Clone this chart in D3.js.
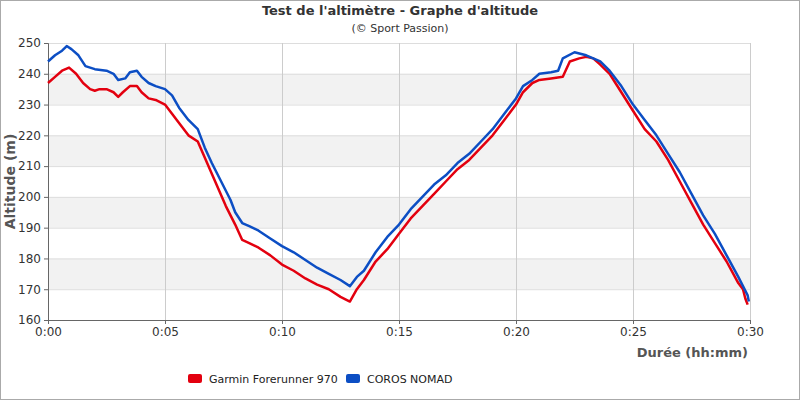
<!DOCTYPE html>
<html><head><meta charset="utf-8">
<script src="https://cdn.jsdelivr.net/npm/d3@7"></script>
<style>body{margin:0;background:#fff;font-family:"DejaVu Sans",sans-serif}</style>
</head><body>
<script>
// minutes -> altitude (m)
var garminT = [0,0.3,0.6,0.9,1.2,1.5,1.8,2.0,2.2,2.5,2.8,3.0,3.2,3.5,3.8,4.0,4.3,4.6,5.0,5.3,5.6,6.0,6.4,6.8,7.2,7.6,8.0,8.3,8.6,9.0,9.5,10,10.5,11,11.5,12,12.5,12.9,13.2,13.5,14,14.5,15,15.5,16,16.5,17,17.5,18,18.5,19,19.5,20,20.3,20.7,21.0,21.5,22.0,22.3,22.7,23,23.3,23.6,24,24.5,25,25.5,26,26.5,27,27.5,28,28.5,29,29.5,29.7,29.8,29.9];
var garminV = [237,239,241,242,240,237,235,234.5,235,235,234,232.5,234,236,236,234,232,231.5,230,227,224,220,218,211,204,197,191,186,185,183.5,181,178,176,173.5,171.5,170,167.5,166,170,173,179,183,188,193,197,201,205,209,212,216,220,225,230,234,237,238,238.5,239,244,245,245.5,245,243,240,234,228,222,218,212,205,198,191,185,179,172,170,167,165];
var corosT = [0,0.3,0.6,0.8,1.0,1.3,1.6,2.0,2.5,2.8,3.0,3.3,3.5,3.8,4.0,4.3,4.6,5.0,5.3,5.6,6.0,6.4,6.7,7.0,7.4,7.8,8.0,8.3,8.6,9.0,9.5,10,10.5,11,11.5,12,12.5,12.9,13.2,13.5,14,14.5,15,15.5,16,16.5,17,17.5,18,18.5,19,19.5,20,20.3,20.7,21,21.5,21.8,22,22.5,23,23.3,23.6,24,24.5,25,25.5,26,26.5,27,27.5,28,28.5,29,29.5,29.7,29.9,29.95];
var corosV = [244,246,247.5,249,248,246,242.5,241.5,241,240,238,238.5,240.5,241,239,237,236,235,233,229,225,222,216,211,205,199,195,191.5,190.5,189,186.5,184,182,179.5,177,175,173,171,174,176,182,187,191,196,200,204,207,211,214,218,222,227,232,236,238,240,240.5,241,245,247,246,245,244,241,236,230,225,220,214,208,201,194,188,181,174,171,168,166];
var xTicks = [0,5,10,15,20,25,30];
var xTickLabels = ["0:00","0:05","0:10","0:15","0:20","0:25","0:30"];
var yTicks = [160,170,180,190,200,210,220,230,240,250];

var W = 800, H = 400, L = 48, R = 750, T = 43, B = 320;
var svg = d3.select("body").append("svg").attr("width", W).attr("height", H);
svg.append("rect").attr("x",0.5).attr("y",0.5).attr("width",W-1).attr("height",H-1)
  .attr("fill","#fff").attr("stroke","#aaa");

var x = d3.scaleLinear().domain([0,30]).range([L,R]);
var y = d3.scaleLinear().domain([160,250]).range([B,T]);

// shaded bands
[170,190,210,230].forEach(function(v){
  svg.append("rect").attr("x",L).attr("width",R-L).attr("y",y(v+10)).attr("height",y(v)-y(v+10)).attr("fill","#f2f2f2");
});
svg.selectAll(".hg").data(yTicks).enter().append("line")
  .attr("x1",L).attr("x2",R).attr("y1",function(d){return y(d)+0.5;}).attr("y2",function(d){return y(d)+0.5;})
  .attr("stroke","#ddd");
svg.selectAll(".vg").data(xTicks).enter().append("line")
  .attr("y1",T).attr("y2",B).attr("x1",function(d){return x(d)+0.5;}).attr("x2",function(d){return x(d)+0.5;})
  .attr("stroke","#ccc");

var xAxis = svg.append("g").attr("transform","translate(0,"+B+")")
  .call(d3.axisBottom(x).tickValues(xTicks).tickFormat(function(d,i){return xTickLabels[i];}).tickSize(4));
var yAxis = svg.append("g").attr("transform","translate("+L+",0)")
  .call(d3.axisLeft(y).tickValues(yTicks).tickSize(4));
[xAxis,yAxis].forEach(function(a){
  a.selectAll("text").attr("font-size",12).attr("fill","#333").attr("font-family","DejaVu Sans");
  a.selectAll("line,path").attr("stroke","#666");
});

var line = d3.line().x(function(d){return x(d[0]);}).y(function(d){return y(d[1]);});
function draw(ts, vs, col){
  svg.append("path").datum(d3.zip(ts, vs)).attr("d", line)
    .attr("fill","none").attr("stroke",col).attr("stroke-width",2.5).attr("stroke-linejoin","round");
}
draw(garminT, garminV, "#e3000f");
draw(corosT, corosV, "#0c4ec4");

svg.append("text").attr("x",W/2).attr("y",15).attr("text-anchor","middle")
  .attr("font-size",13).attr("font-weight","bold").attr("fill","#333").text("Test de l'altimètre - Graphe d'altitude");
svg.append("text").attr("x",W/2).attr("y",32).attr("text-anchor","middle")
  .attr("font-size",11).attr("fill","#333").text("(© Sport Passion)");
svg.append("text").attr("x",748).attr("y",357).attr("text-anchor","end")
  .attr("font-size",13).attr("font-weight","bold").attr("fill","#555").text("Durée (hh:mm)");
svg.append("text").attr("transform","translate(15,"+((T+B)/2)+") rotate(-90)").attr("text-anchor","middle")
  .attr("font-size",14).attr("font-weight","bold").attr("fill","#555").text("Altitude (m)");

var legend = [["Garmin Forerunner 970","#e3000f",188],["COROS NOMAD","#0c4ec4",346]];
legend.forEach(function(l){
  svg.append("rect").attr("x",l[2]).attr("y",374).attr("width",14).attr("height",9).attr("rx",2).attr("fill",l[1]);
  svg.append("text").attr("x",l[2]+21).attr("y",383).attr("font-size",11).attr("fill","#222").text(l[0]);
});
</script>
</body></html>
